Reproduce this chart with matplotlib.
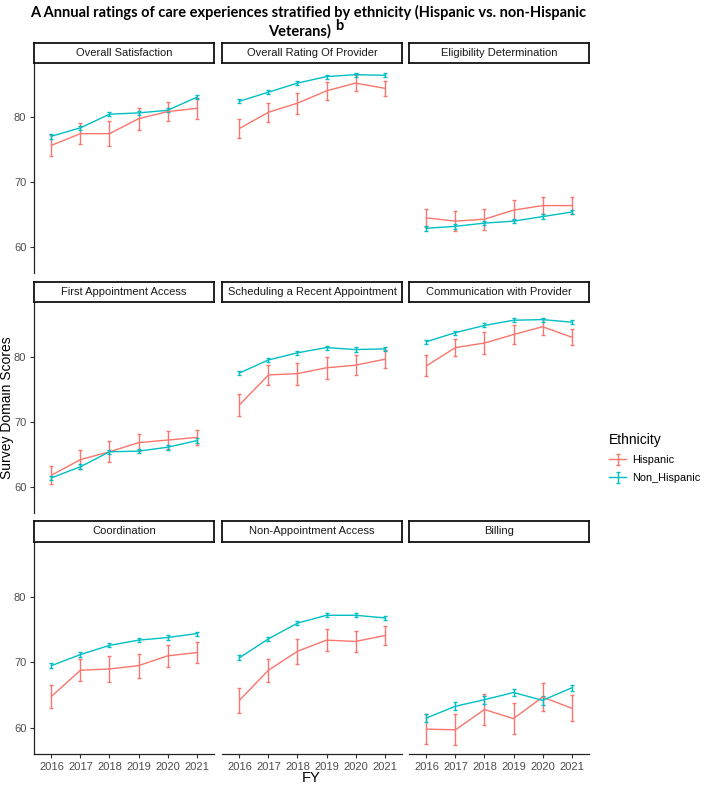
import numpy as np
import matplotlib
matplotlib.use("Agg")
import matplotlib.pyplot as plt

# data
years = [2016, 2017, 2018, 2019, 2020, 2021]
domains = ["Overall Satisfaction", "Overall Rating Of Provider", "Eligibility Determination",
           "First Appointment Access", "Scheduling a Recent Appointment", "Communication with Provider",
           "Coordination", "Non-Appointment Access", "Billing"]

hisp_mean = [
    [75.7, 77.5, 77.5, 79.8, 80.9, 81.4],
    [78.3, 80.8, 82.2, 84.1, 85.3, 84.5],
    [64.5, 64.0, 64.3, 65.7, 66.4, 66.4],
    [61.8, 64.2, 65.4, 66.8, 67.2, 67.6],
    [72.6, 77.2, 77.4, 78.3, 78.7, 79.6],
    [78.6, 81.4, 82.1, 83.4, 84.6, 83.0],
    [64.8, 68.8, 69.0, 69.5, 71.0, 71.5],
    [64.2, 68.8, 71.7, 73.4, 73.2, 74.1],
    [59.8, 59.7, 62.8, 61.4, 64.7, 63.0],
]
hisp_err = [
    [1.6, 1.6, 1.9, 1.7, 1.5, 1.6],
    [1.5, 1.45, 1.6, 1.4, 1.2, 1.2],
    [1.4, 1.5, 1.6, 1.6, 1.3, 1.3],
    [1.4, 1.5, 1.6, 1.3, 1.4, 1.2],
    [1.65, 1.55, 1.7, 1.65, 1.5, 1.4],
    [1.6, 1.35, 1.65, 1.45, 1.2, 1.25],
    [1.75, 1.65, 2.0, 1.85, 1.65, 1.55],
    [1.95, 1.75, 1.95, 1.65, 1.65, 1.5],
    [2.3, 2.4, 2.3, 2.35, 2.2, 2.0],
]
nonhisp_mean = [
    [77.1, 78.4, 80.5, 80.7, 81.1, 83.1],
    [82.5, 83.9, 85.3, 86.3, 86.6, 86.5],
    [62.9, 63.2, 63.7, 64.0, 64.7, 65.4],
    [61.4, 63.1, 65.4, 65.5, 66.1, 67.1],
    [77.5, 79.5, 80.6, 81.4, 81.1, 81.2],
    [82.3, 83.7, 84.8, 85.6, 85.7, 85.3],
    [69.5, 71.2, 72.6, 73.4, 73.8, 74.4],
    [70.7, 73.6, 76.0, 77.2, 77.2, 76.8],
    [61.5, 63.3, 64.3, 65.4, 64.2, 66.1],
]
nonhisp_err = [
    [0.35, 0.35, 0.3, 0.3, 0.3, 0.3],
    [0.3, 0.3, 0.3, 0.3, 0.3, 0.3],
    [0.35, 0.35, 0.35, 0.35, 0.35, 0.35],
    [0.35, 0.35, 0.35, 0.35, 0.35, 0.35],
    [0.35, 0.35, 0.3, 0.3, 0.35, 0.3],
    [0.3, 0.3, 0.3, 0.3, 0.3, 0.3],
    [0.35, 0.35, 0.3, 0.3, 0.35, 0.3],
    [0.4, 0.35, 0.35, 0.3, 0.3, 0.3],
    [0.6, 0.6, 0.6, 0.6, 0.7, 0.5],
]
groups = ["Hispanic", "Non_Hispanic"]
colors = ["#F8766D", "#00BFC4"]

plt.rcParams['font.family'] = ['Liberation Sans', 'DejaVu Sans']

W, H = 708, 785
fig = plt.figure(figsize=(W / 100, H / 100), dpi=100)


def frac(x0, y0, x1, y1):
    # pixel box (top-left origin) -> figure fraction rect
    return [x0 / W, 1 - y1 / H, (x1 - x0) / W, (y1 - y0) / H]


col_x = [34, 222, 409]
pw = 180
rows = [(43, 63, 273), (282, 302, 513), (521, 542, 754)]

handles = []
for i, name in enumerate(domains):
    r, c = divmod(i, 3)
    st, pt, pb = rows[r]
    x0 = col_x[c]
    ax = fig.add_axes(frac(x0, pt, x0 + pw, pb))
    for g in range(2):
        m = hisp_mean[i] if g == 0 else nonhisp_mean[i]
        e = hisp_err[i] if g == 0 else nonhisp_err[i]
        h = ax.errorbar(years, m, yerr=e, color=colors[g], lw=1.0, elinewidth=1.0,
                        capsize=1.4, capthick=1.0, label=groups[g])
        if i == 0:
            handles.append(h)
    ax.set_xlim(2015.4, 2021.6)
    ax.set_ylim(56.0, 88.4)
    ax.set_yticks([60, 70, 80])
    ax.set_xticks(years)
    for s in ["top", "right"]:
        ax.spines[s].set_visible(False)
    ax.spines["left"].set_visible(c == 0)
    ax.spines["bottom"].set_visible(r == 2)
    for s in ["left", "bottom"]:
        ax.spines[s].set_linewidth(0.9)
        ax.spines[s].set_color("#222222")
    ax.tick_params(axis="y", left=(c == 0), labelleft=(c == 0), length=3,
                   color="#333333", labelcolor="#4D4D4D", labelsize=8, pad=2.5)
    ax.tick_params(axis="x", bottom=(r == 2), labelbottom=(r == 2), length=3,
                   color="#333333", labelcolor="#4D4D4D", labelsize=8, pad=2.5)
    ax.patch.set_alpha(0)

    # facet strip
    sax = fig.add_axes(frac(x0, st, x0 + pw, pt))
    sax.set_xticks([])
    sax.set_yticks([])
    for s in sax.spines.values():
        s.set_linewidth(1.3)
        s.set_color("#111111")
    sax.text(0.5, 0.5, name, ha="center", va="center", fontsize=8, color="#1A1A1A",
             transform=sax.transAxes)

# title
fig.text(308 / W, 1 - 12 / H,
         "A Annual ratings of care experiences stratified by ethnicity (Hispanic vs. non-Hispanic",
         ha="center", va="center", fontsize=10.5, fontweight="bold", family=["Lato", "DejaVu Sans"])
fig.text(331 / W, 1 - 31 / H, "Veterans)", ha="right", va="center", fontsize=10.5,
         fontweight="bold", family=["Lato", "DejaVu Sans"])
fig.text(335 / W, 1 - 26 / H, "b", ha="left", va="center", fontsize=10.5,
         fontweight="bold", family=["Lato", "DejaVu Sans"])

# axis titles
fig.text(7 / W, 1 - 408 / H, "Survey Domain Scores", rotation=90, ha="center", va="center",
         fontsize=10)
fig.text(311 / W, 1 - 778 / H, "FY", ha="center", va="center", fontsize=10.5)

# legend
leg = fig.legend(handles=handles, labels=groups, title="Ethnicity", loc="upper left",
                 bbox_to_anchor=(609 / W, 1 - 433 / H), frameon=False, fontsize=7.8,
                 title_fontsize=10, handlelength=1.6, handletextpad=0.5, borderpad=0,
                 borderaxespad=0, alignment="left", labelspacing=0.75)

fig.savefig("out.png", dpi=100)
